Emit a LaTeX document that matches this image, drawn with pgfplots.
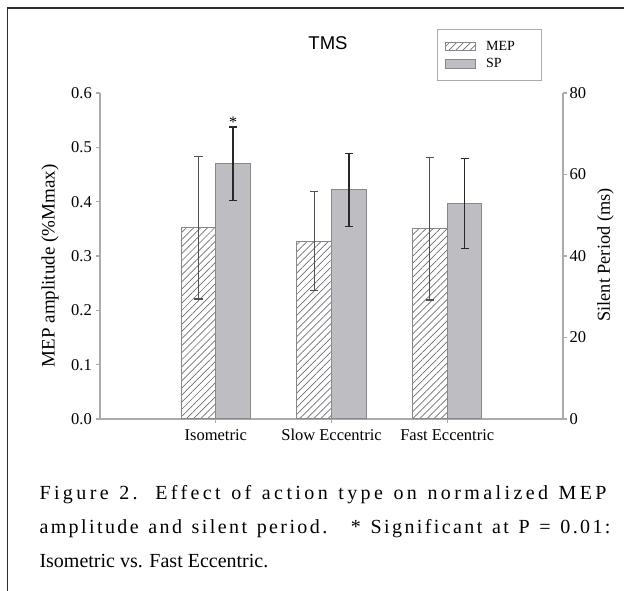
\documentclass[border=0pt]{standalone}
\usepackage{fontspec}
\setmainfont{Liberation Serif}
\newfontfamily\titlefont{Liberation Sans}
\newfontfamily\capA[LetterSpace=17]{Liberation Serif}
\newfontfamily\capB[LetterSpace=12]{Liberation Serif}
\usepackage{pgfplots}
\usepackage{pgfplotstable}
\pgfplotsset{compat=1.18}
\usetikzlibrary{patterns.meta}

\definecolor{axisgray}{RGB}{170,170,175}
\definecolor{barfill}{RGB}{190,190,194}
\definecolor{baredge}{RGB}{135,135,140}
\definecolor{hatch}{RGB}{110,110,115}
\definecolor{errdark}{RGB}{40,40,40}
\definecolor{errmid}{RGB}{80,80,80}
\definecolor{framec}{RGB}{45,45,45}

% MEP amplitude (%Mmax) and silent period (ms), mean and error
\pgfplotstableread{
x y e
0 0.352 0.131
1 0.327 0.091
2 0.350 0.131
}\mepdata
\pgfplotstableread{
x y e
0 62.6 9.0
1 56.2 9.0
2 52.9 11.0
}\spdata

\pgfplotsset{
  common/.style={
    scale only axis, width=463pt, height=326pt,
    at={(100pt,172pt)}, anchor=south west,
    xmin=-1, xmax=3, ymin=0, enlargelimits=false,
    ybar, clip=false,
    tick align=outside, major tick length=4pt,
    axis line style={-, axisgray, line width=2pt},
    tick style={axisgray, line width=1.4pt},
    ticklabel style={font=\fontsize{16.5}{18}\selectfont},
    /pgf/number format/assume math mode=true,
  },
  mepbar/.style={draw=baredge, line width=1pt,
    pattern={Lines[angle=45,distance=5pt,line width=0.7pt]}, pattern color=hatch,
    legend image code/.code={\draw[##1] (0pt,-4pt) rectangle (30pt,4pt);}},
  spbar/.style={draw=baredge, line width=1pt, fill=barfill,
    legend image code/.code={\draw[##1] (0pt,-4.5pt) rectangle (30pt,4.5pt);}},
}

\begin{document}
\begin{tikzpicture}
\path[use as bounding box] (0,0) rectangle (624pt,591pt);
\draw[framec, line width=1.3pt] (624pt,583pt) -- (7.5pt,583pt) -- (7.5pt,0pt);

\begin{axis}[common,
  ymax=0.6,
  axis x line*=bottom, axis y line*=left,
  xtick={0,1,2},
  xticklabels={Isometric, Slow Eccentric, Fast Eccentric},
  xticklabel style={inner ysep=6pt},
  ytick={0,0.1,0.2,0.3,0.4,0.5,0.6},
  yticklabel style={inner xsep=4pt, /pgf/number format/fixed,
    /pgf/number format/fixed zerofill, /pgf/number format/precision=1},
  ylabel={MEP amplitude (\%Mmax)},
  ylabel style={at={(axis description cs:-0.108,0.47)}, anchor=center, rotate=0,
    font=\fontsize{19}{20}\selectfont},
]
\addplot[mepbar, bar width=0.3, bar shift=-0.15,
  error bars/.cd, y dir=both, y explicit,
  error bar style={errmid, line width=1.2pt},
  error mark options={rotate=90, errmid, line width=1.2pt, mark size=4.2pt}]
  table[x=x, y=y, y error=e] {\mepdata};
\end{axis}

\begin{axis}[common,
  ymax=80,
  hide x axis, axis y line*=right,
  ytick={0,20,40,60,80},
  yticklabel style={inner xsep=2.5pt},
  ylabel={Silent Period (ms)},
  ylabel style={at={(axis description cs:1.092,0.503)}, anchor=center,
    font=\fontsize{18.3}{20}\selectfont},
  legend style={at={(0.7272,1.1963)}, anchor=north west,
    draw=axisgray, line width=1pt, fill=white,
    font=\fontsize{14}{15}\selectfont,
    inner xsep=8pt, inner ysep=12pt, row sep=6pt,
    nodes={inner sep=0pt},
    cells={anchor=west},
    /tikz/every odd column/.append style={column sep=10pt}},
]
\addlegendimage{mepbar}
\addlegendentry{\makebox[47pt][l]{MEP}}
\addplot[spbar, bar width=0.3, bar shift=0.15,
  error bars/.cd, y dir=both, y explicit,
  error bar style={errdark, line width=1.5pt},
  error mark options={rotate=90, errdark, line width=1.5pt, mark size=4pt}]
  table[x=x, y=y, y error=e] {\spdata};
\addlegendentry{\makebox[47pt][l]{SP}}
\node[font=\fontsize{16}{16}\selectfont, anchor=base, inner sep=0pt]
  at (axis cs:0.15,71.5) {*};
\end{axis}

\node[font=\titlefont\fontsize{18.5}{20}\selectfont, inner sep=0pt] at (328pt,547.7pt) {TMS};

\node[anchor=base west, inner sep=0pt] at (39.3pt,91pt)
  {\fontsize{20}{24}\capA\makebox[567pt][s]{Figure 2. Effect of action type on normalized MEP}};
\node[anchor=base west, inner sep=0pt] at (39.3pt,57pt)
  {\fontsize{20}{24}\capB\makebox[571pt][s]{amplitude and silent period.\hspace{7pt} * Significant at P = 0.01:}};
\node[anchor=base west, inner sep=0pt] at (39.3pt,23pt)
  {\fontsize{20}{24}\selectfont Isometric vs. Fast Eccentric.};
\end{tikzpicture}
\end{document}
